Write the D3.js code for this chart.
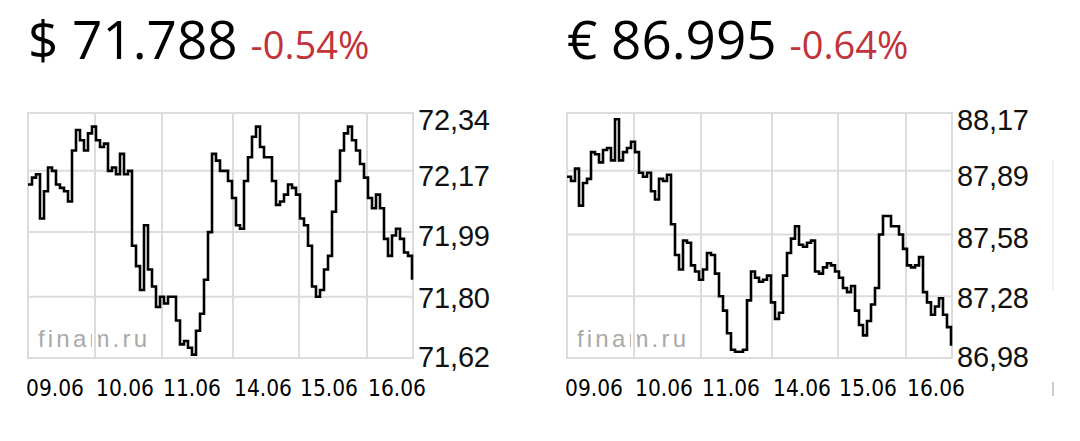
<!DOCTYPE html>
<html>
<head>
<meta charset="utf-8">
<script src="https://cdn.jsdelivr.net/npm/d3@7"></script>
<style>
  html, body { margin: 0; padding: 0; background: #fff; }
  svg { display: block; }
</style>
</head>
<body>
<svg id="chart" width="1080" height="441"></svg>
<script>
// ---------- DATA ----------
const dayLabels = ["09.06", "10.06", "11.06", "14.06", "15.06", "16.06"];
// start of each trading day, in sample-index units
const dayStarts = [0, 16.75, 33.5, 51.25, 67.75, 84.75];

const usdTicks = [71.62, 71.80, 71.99, 72.17, 72.34];
const usdTickLabels = ["71,62", "71,80", "71,99", "72,17", "72,34"];
const usdValues = [
  72.13, 72.15, 72.16, 72.03, 72.11, 72.18, 72.17, 72.13, 72.12, 72.11,
  72.08, 72.23, 72.29, 72.26, 72.23, 72.28, 72.30, 72.26, 72.24, 72.25,
  72.17, 72.18, 72.16, 72.22, 72.16, 72.17, 71.95, 71.89, 71.82, 72.01,
  71.88, 71.83, 71.77, 71.80, 71.78, 71.80, 71.80, 71.73, 71.66, 71.67,
  71.65, 71.63, 71.70, 71.75, 71.85, 71.99, 72.22, 72.20, 72.17, 72.17,
  72.14, 72.09, 72.01, 72.00, 72.14, 72.21, 72.27, 72.30, 72.24, 72.21,
  72.21, 72.14, 72.07, 72.08, 72.10, 72.13, 72.12, 72.10, 72.03, 72.01,
  71.95, 71.83, 71.80, 71.82, 71.88, 71.92, 72.05, 72.14, 72.23, 72.28,
  72.30, 72.26, 72.23, 72.19, 72.15, 72.09, 72.06, 72.10, 72.06, 71.97,
  71.92, 71.98, 72.00, 71.97, 71.93, 71.92, 71.85
];

const eurTicks = [86.98, 87.28, 87.58, 87.89, 88.17];
const eurTickLabels = ["86,98", "87,28", "87,58", "87,89", "88,17"];
const eurValues = [
  87.86, 87.84, 87.90, 87.72, 87.83, 87.85, 87.98, 87.97, 87.93, 87.99,
  88.00, 87.94, 88.14, 87.94, 87.98, 88.00, 88.03, 87.98, 87.88, 87.86,
  87.88, 87.79, 87.75, 87.85, 87.84, 87.87, 87.63, 87.48, 87.41, 87.55,
  87.54, 87.43, 87.40, 87.36, 87.41, 87.49, 87.48, 87.39, 87.28, 87.21,
  87.10, 87.02, 87.01, 87.01, 87.02, 87.26, 87.40, 87.37, 87.35, 87.36,
  87.38, 87.25, 87.17, 87.20, 87.38, 87.49, 87.56, 87.62, 87.53, 87.52,
  87.54, 87.55, 87.40, 87.39, 87.42, 87.44, 87.43, 87.40, 87.37, 87.32,
  87.30, 87.33, 87.21, 87.14, 87.09, 87.16, 87.24, 87.32, 87.58, 87.67,
  87.67, 87.62, 87.62, 87.58, 87.51, 87.43, 87.42, 87.43, 87.47, 87.30,
  87.25, 87.19, 87.23, 87.27, 87.19, 87.13, 87.04
];

const panels = [
  { symbol: "$", price: "71.788", change: "-0.54%", values: usdValues, ticks: usdTicks, tickLabels: usdTickLabels, left: 28 },
  { symbol: "€", price: "86.995", change: "-0.64%", values: eurValues, ticks: eurTicks, tickLabels: eurTickLabels, left: 567 }
];

// ---------- LAYOUT ----------
const plotTop = 113, plotW = 385, plotH = 245;
const gridColor = "#dcdcdc";
const svg = d3.select("#chart");

panels.forEach((p, pi) => {
  // Title
  const title = svg.append("text")
    .attr("x", p.left).attr("y", 59)
    .attr("font-family", "'Open Sans', 'Noto Sans', sans-serif")
    .attr("font-size", 53)
    .attr("fill", "#000")
    .text(p.symbol + " " + p.price);
  const tw = title.node().getComputedTextLength();
  svg.append("text")
    .attr("x", p.left + tw + 13).attr("y", 59)
    .attr("font-family", "'Open Sans', 'Noto Sans', sans-serif")
    .attr("font-size", 38)
    .attr("fill", "#c2323a")
    .text(p.change);

  const g = svg.append("g").attr("transform", `translate(${p.left},${plotTop})`);

  const x = d3.scaleLinear().domain([0, p.values.length - 1]).range([0, plotW - 1]);
  const y = d3.scaleLinear().domain([p.ticks[0], p.ticks[p.ticks.length - 1]]).range([plotH, 0]);
  const labelY = d3.scaleLinear().domain([p.ticks[0], p.ticks[p.ticks.length - 1]]).range([plotH - 1, 7]);

  // watermark
  g.append("text")
    .attr("x", 10).attr("y", 234)
    .attr("font-family", "'Liberation Sans', Arial, sans-serif")
    .attr("font-size", 24)
    .attr("fill", "#a9a9a9")
    .attr("textLength", 109)
    .attr("lengthAdjust", "spacing")
    .text("finam.ru");

  // vertical gridlines (white halo + grey line)
  const vlines = dayStarts.slice(1);
  g.selectAll(".vhalo").data(vlines).join("line")
    .attr("x1", d => x(d)).attr("x2", d => x(d))
    .attr("y1", 0).attr("y2", plotH)
    .attr("stroke", "#fff").attr("stroke-width", 6);
  g.selectAll(".vgrid").data(vlines).join("line")
    .attr("x1", d => x(d)).attr("x2", d => x(d))
    .attr("y1", 0).attr("y2", plotH)
    .attr("stroke", gridColor).attr("stroke-width", 2);

  // horizontal gridlines
  g.selectAll(".hgrid").data(p.ticks.slice(1, -1)).join("line")
    .attr("x1", 0).attr("x2", plotW)
    .attr("y1", d => y(d)).attr("y2", d => y(d))
    .attr("stroke", gridColor).attr("stroke-width", 2);

  // border
  g.append("rect")
    .attr("x", 0).attr("y", 0).attr("width", plotW).attr("height", plotH)
    .attr("fill", "none").attr("stroke", gridColor).attr("stroke-width", 2);

  // price line
  const line = d3.line()
    .x((d, i) => x(i))
    .y(d => y(d))
    .curve(d3.curveStepAfter);
  g.append("path")
    .datum(p.values)
    .attr("d", line)
    .attr("fill", "none")
    .attr("stroke", "#000")
    .attr("stroke-width", 2.6);

  // y tick labels
  g.selectAll(".ylab").data(p.ticks).join("text")
    .attr("x", plotW + 5)
    .attr("y", d => labelY(d))
    .attr("dy", "0.36em")
    .attr("font-family", "'Liberation Sans', Arial, sans-serif")
    .attr("font-size", 29)
    .attr("fill", "#111")
    .attr("textLength", 72)
    .attr("lengthAdjust", "spacing")
    .text((d, i) => p.tickLabels[i]);

  // x tick labels (dates)
  const clipId = "xclip" + pi;
  svg.append("clipPath").attr("id", clipId)
    .append("rect").attr("x", p.left - 1).attr("y", 360).attr("width", 460).attr("height", 60);
  const xl = svg.append("g").attr("clip-path", `url(#${clipId})`);
  xl.selectAll("text").data(dayStarts).join("text")
    .attr("x", (d, i) => p.left + x(d) + (i === 0 ? -2 : 1))
    .attr("y", 396)
    .attr("font-family", "'DejaVu Sans Condensed', 'DejaVu Sans', sans-serif")
    .attr("font-stretch", "condensed")
    .attr("font-size", 22.5)
    .attr("fill", "#000")
    .attr("textLength", 58)
    .attr("lengthAdjust", "spacing")
    .text((d, i) => dayLabels[i]);
});

// faint page edge at far right
svg.append("line").attr("x1", 1053).attr("x2", 1053).attr("y1", 160).attr("y2", 290)
  .attr("stroke", "#ececec").attr("stroke-width", 1.5);
svg.append("line").attr("x1", 1053).attr("x2", 1053).attr("y1", 382).attr("y2", 396)
  .attr("stroke", "#bbb").attr("stroke-width", 1.5);
</script>
</body>
</html>
